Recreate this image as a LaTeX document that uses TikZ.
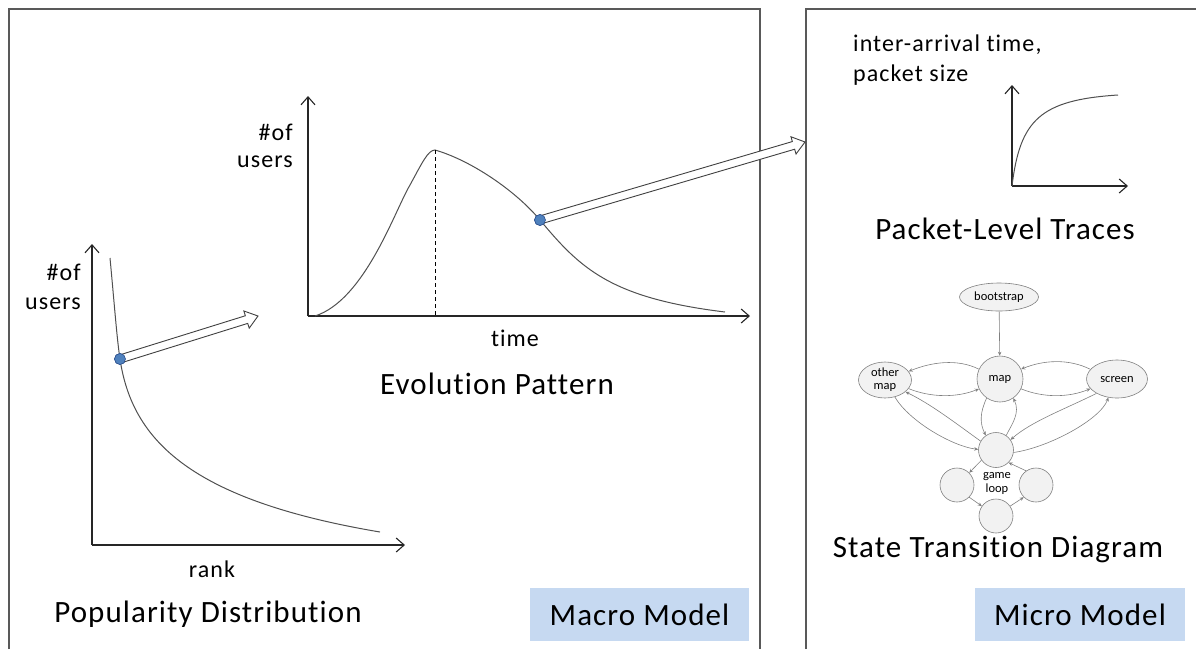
\documentclass[tikz,border=0pt]{standalone}
\usepackage{fontspec}
\setmainfont[Ligatures=NoCommon]{Carlito}
\newfontfamily\widefont[LetterSpace=3.5,Ligatures=NoCommon]{Carlito}
\newfontfamily\labelfont[LetterSpace=4.5,Ligatures=NoCommon]{Carlito}
\usetikzlibrary{calc,arrows.meta,shapes.geometric}

\definecolor{framegray}{HTML}{595959}
\definecolor{curvegray}{HTML}{505050}
\definecolor{dotblue}{HTML}{4F81BD}
\definecolor{dotedge}{HTML}{2F528F}
\definecolor{tagblue}{HTML}{C6D9F1}
\definecolor{stfill}{HTML}{F2F2F2}
\definecolor{stedge}{HTML}{808080}

% hollow block arrow from node #1 to coordinate #2
\newcommand\blockarrow[2]{%
  \coordinate (#2-neck) at ($(#2)!12pt!(#1)$);
  \draw[blockarr]
    ($(#1)!4pt!90:(#2)$) -- ($(#2-neck)!4pt!90:(#2)$) --
    ($(#2-neck)!9pt!90:(#2)$) -- (#2) --
    ($(#2-neck)!9pt!-90:(#2)$) -- ($(#2-neck)!4pt!-90:(#2)$) --
    ($(#1)!4pt!-90:(#2)$);
}

\begin{document}
\begin{tikzpicture}[x=1pt,y=-1pt,
  frame/.style={draw=framegray,line width=1.5pt},
  axis/.style={draw=black!85,line width=1.1pt,
    -{Straight Barb[length=8pt,width=14pt]}},
  curve/.style={draw=curvegray,line width=1pt},
  blockarr/.style={draw=black!75,line width=0.9pt,fill=white,line join=miter},
  dot/.style={circle,draw=dotedge,fill=dotblue,line width=0.6pt,
    minimum size=11pt,inner sep=0pt},
  title/.style={font=\widefont\fontsize{31}{36}\selectfont,inner sep=0pt},
  axlabel/.style={font=\labelfont\fontsize{24}{30}\selectfont,inner sep=0pt},
  tag/.style={fill=tagblue,minimum width=219pt,minimum height=53pt,
    inner sep=0pt,font=\widefont\fontsize{31}{36}\selectfont},
  stnode/.style={draw=stedge,fill=stfill,line width=0.6pt,inner sep=0pt,
    font=\fontsize{12.5}{14}\selectfont},
  sarrow/.style={draw=stedge,line width=0.6pt,
    -{Stealth[length=4pt,width=3.5pt]}},
]
\useasboundingbox (0,0) rectangle (1196,649);

% panel frames
\draw[frame] (9,649) -- (9,9) -- (760,9) -- (760,649);
\draw[frame] (806,649) -- (806,9) -- (1196,9);

% ---------- popularity distribution ----------
\coordinate (p-o) at (92,545);
\coordinate (p-top) at (92,244);
\coordinate (p-right) at (405,545);
\draw[axis] (p-o) -- (p-top);
\draw[axis] (p-o) -- (p-right);
\draw[curve] (110,258) .. controls (114,300) and (117,340) .. (120,359)
  .. controls (132,440) and (190,500) .. (380,532);
\node[axlabel,anchor=east] (p-of) at (81,272) {\#of};
\node[axlabel,anchor=east] (p-users) at (81,304) {users};
\node[axlabel] (p-rank) at (212,569) {rank};
\node[title] (p-title) at (208,614) {Popularity Distribution};
\coordinate (p-tip) at (258,316);
\node[dot] (p-dot) at (120,359) {};
\blockarrow{p-dot}{p-tip}
\node[dot] at (p-dot) {};

% ---------- evolution pattern ----------
\coordinate (e-o) at (308,316);
\coordinate (e-top) at (308,96);
\coordinate (e-right) at (750,316);
\draw[axis] (e-o) -- (e-top);
\draw[axis] (e-o) -- (e-right);
\coordinate (e-peak) at (435,150);
\coordinate (e-foot) at (435,316);
\draw[curve] (315,316) .. controls (365,300) and (395,210) .. (410,185)
  .. controls (422,163) and (428,150) .. (e-peak)
  .. controls (470,160) and (515,190) .. (540,220)
  .. controls (580,268) and (610,298) .. (725,312);
\draw[black,line width=0.9pt,dash pattern=on 4pt off 3pt] (e-peak) -- (e-foot);
\node[axlabel,anchor=east] (e-of) at (293,132) {\#of};
\node[axlabel,anchor=east] (e-users) at (293,162) {users};
\node[axlabel] (e-time) at (515,338) {time};
\node[title] (e-title) at (497,384) {Evolution Pattern};
\coordinate (e-tip) at (805,142);
\node[dot] (e-dot) at (540,220) {};
\blockarrow{e-dot}{e-tip}
\node[dot] at (e-dot) {};

% ---------- packet-level traces ----------
\coordinate (t-o) at (1012,186);
\coordinate (t-top) at (1012,85);
\coordinate (t-right) at (1128,186);
\draw[axis] (t-o) -- (t-top);
\draw[axis] (t-o) -- (t-right);
\draw[curve] (t-o) .. controls (1020,120) and (1040,100) .. (1118,95);
\node[axlabel,anchor=west] (t-l1) at (853,45) {inter-arrival time,};
\node[axlabel,anchor=west] (t-l2) at (853,75) {packet size};
\node[title] (t-title) at (1005,229) {Packet-Level Traces};

% ---------- state transition diagram ----------
\node[stnode,ellipse,minimum width=79pt,minimum height=28pt] (boot) at (999,297) {bootstrap};
\node[stnode,circle,minimum size=46pt] (map) at (1000,379) {map};
\node[stnode,ellipse,minimum width=53pt,minimum height=36pt,align=center,
  font=\fontsize{12.5}{13}\selectfont] (omap) at (885,380) {other\\map};
\node[stnode,ellipse,minimum width=61pt,minimum height=38pt] (screen) at (1117,379) {screen};
\node[stnode,circle,minimum size=35pt] (game) at (996,450) {};
\node[stnode,circle,minimum size=34pt] (gl) at (957,485) {};
\node[stnode,circle,minimum size=34pt] (gr) at (1036,485) {};
\node[stnode,circle,minimum size=34pt] (gb) at (996,516) {};
\node[font=\fontsize{12.5}{14}\selectfont,align=center,inner sep=0pt] (gloop) at (997,483) {game\\loop};

\draw[sarrow] (boot) -- (map);
\draw[sarrow] (map.155) .. controls +(-22,-11) and +(22,-9) .. (omap.20);
\draw[sarrow] (omap.-20) .. controls +(22,9) and +(-22,9) .. (map.205);
\draw[sarrow] (screen.160) .. controls +(-22,-11) and +(22,-9) .. (map.25);
\draw[sarrow] (map.-25) .. controls +(22,9) and +(-22,9) .. (screen.200);
\draw[sarrow] (map.235) .. controls +(-7,15) and +(-6,-12) .. (game.125);
\draw[sarrow] (game.55) .. controls +(6,-12) and +(7,15) .. (map.-55);
\draw[sarrow] (omap.-60) .. controls +(15,25) and +(-25,-3) .. (game.178);
\draw[sarrow] (game.150) .. controls +(-25,-18) and +(25,12) .. (omap.-30);
\draw[sarrow] (screen.215) .. controls +(-30,15) and +(20,-18) .. (game.35);
\draw[sarrow] (game.-8) .. controls +(35,-5) and +(-8,22) .. (screen.245);
\draw[sarrow] (game.215) -- (gl.45);
\draw[sarrow] (gl.-45) -- (gb.145);
\draw[sarrow] (gb.35) -- (gr.-135);
\draw[sarrow] (gr.125) -- (game.-45);
\node[title] (s-title) at (998,549) {State Transition Diagram};

% ---------- model tags ----------
\node[tag] (macro) at (639.5,614.5) {Macro Model};
\node[tag,minimum width=210pt] (micro) at (1080,614.5) {Micro Model};
\end{tikzpicture}
\end{document}
